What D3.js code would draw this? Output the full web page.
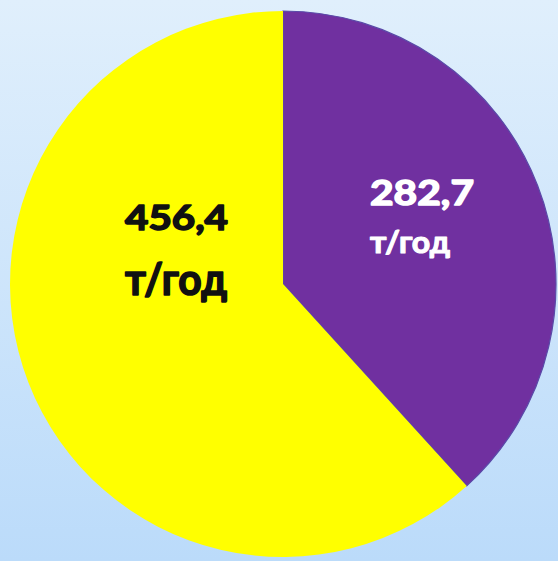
<!DOCTYPE html>
<html>
<head>
<meta charset="utf-8">
<script src="https://cdn.jsdelivr.net/npm/d3@7"></script>
<style>
html,body{margin:0;padding:0;overflow:hidden;}
svg{display:block;}
</style>
</head>
<body>
<script>
const categories = ["Фиолетовый", "Жёлтый"];
const values = [282.7, 456.4];
const valueLabels = ["282,7", "456,4"];
const unitLabel = "т/год";
const colors = ["#7030a0", "#ffff00"];

const W = 558, H = 561;
const cx = 283, cy = 284, R = 273;

const svg = d3.select("body").append("svg").attr("width", W).attr("height", H);
const defs = svg.append("defs");
const grad = defs.append("linearGradient").attr("id", "bg").attr("x1", 0).attr("y1", 0).attr("x2", 0).attr("y2", 1);
grad.append("stop").attr("offset", "0%").attr("stop-color", "#e0effc");
grad.append("stop").attr("offset", "100%").attr("stop-color", "#bbdbfa");
svg.append("rect").attr("width", W).attr("height", H).attr("fill", "url(#bg)");

const pie = d3.pie().sort(null).value(d => d);
const arcs = pie(values);
const arc = d3.arc().innerRadius(0).outerRadius(R);

const g = svg.append("g").attr("transform", `translate(${cx},${cy})`);
g.selectAll("path").data(arcs).join("path")
  .attr("d", arc)
  .attr("fill", (d, i) => colors[i])
  .attr("stroke", (d, i) => i === 0 ? "#5a4aa8" : "none")
  .attr("stroke-width", 1.2);

const font = "Lato, 'Open Sans', sans-serif";
function label(parent, txt, x, y, fs, len, sw) {
  parent.append("text").attr("x", x).attr("y", y).attr("font-size", fs)
    .attr("stroke-width", sw).attr("stroke-linejoin", "round")
    .attr("textLength", len).attr("lengthAdjust", "spacingAndGlyphs").text(txt);
}
// Yellow label
const yl = svg.append("g").attr("font-family", font).attr("font-weight", "bold")
  .attr("fill", "#111").attr("stroke", "#111");
label(yl, valueLabels[1], 125, 230, 35, 103, 1.6);
label(yl, unitLabel, 125, 295, 43, 102, 1.6);

// Purple label
const pl = svg.append("g").attr("font-family", font).attr("font-weight", "bold")
  .attr("fill", "#ffffff").attr("stroke", "#ffffff");
label(pl, valueLabels[0], 370, 205, 35, 104, 1.5);
label(pl, unitLabel, 370, 253, 30, 80, 1.1);
</script>
</body>
</html>
